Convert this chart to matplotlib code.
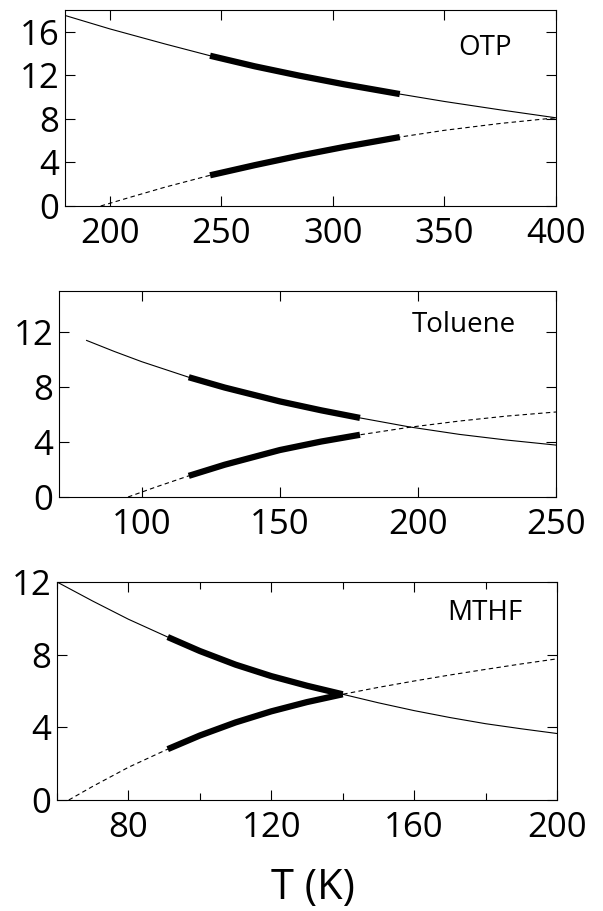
import matplotlib
matplotlib.use('Agg')
import matplotlib.pyplot as plt
import numpy as np
from matplotlib.ticker import MultipleLocator

plt.rcParams['font.family'] = ['Open Sans', 'DejaVu Sans']

# OTP
otp_T_solid = [180, 200, 225, 245, 265, 285, 305, 330, 350, 375, 400]
otp_solid = [17.5, 16.27, 14.87, 13.8, 12.83, 11.97, 11.18, 10.28, 9.6, 8.83, 8.1]
otp_T_dash = [196, 210, 225, 245, 265, 285, 305, 330, 350, 375, 400]
otp_dash = [0, 0.85, 1.74, 2.82, 3.75, 4.62, 5.42, 6.33, 6.95, 7.58, 8.1]
otp_range = (245, 330)

# Toluene
tol_T_solid = [80, 90, 100, 117, 130, 150, 165, 179, 197, 215, 232, 250]
tol_solid = [11.4, 10.6, 9.85, 8.72, 7.97, 6.96, 6.31, 5.76, 5.1, 4.56, 4.15, 3.78]
tol_T_dash = [95, 105, 117, 130, 150, 165, 179, 197, 215, 232, 250]
tol_dash = [0, 0.72, 1.54, 2.35, 3.42, 4.04, 4.53, 5.08, 5.53, 5.89, 6.19]
tol_range = (117, 179)

# MTHF
mthf_T_solid = [60, 70, 80, 91, 100, 110, 120, 130, 140, 150, 160, 170, 180, 190, 200]
mthf_solid = [12.0, 10.95, 9.95, 8.97, 8.2, 7.45, 6.82, 6.29, 5.82, 5.35, 4.92, 4.54, 4.2, 3.92, 3.66]
mthf_T_dash = [63.3, 70, 80, 91, 100, 110, 120, 130, 140, 150, 160, 170, 180, 190, 200]
mthf_dash = [0, 0.75, 1.8, 2.8, 3.55, 4.27, 4.88, 5.39, 5.82, 6.2, 6.55, 6.88, 7.19, 7.49, 7.77]
mthf_range = (91, 140)

panels = [
    dict(name='OTP', Ts=otp_T_solid, ys=otp_solid, Td=otp_T_dash, yd=otp_dash, rng=otp_range,
         xlim=(180, 400), ylim=(0, 18), xmaj=50, xmin=None, yticks=[0, 4, 8, 12, 16],
         rect=[65, 10, 556, 206], lab=(0.855, 0.806)),
    dict(name='Toluene', Ts=tol_T_solid, ys=tol_solid, Td=tol_T_dash, yd=tol_dash, rng=tol_range,
         xlim=(70, 250), ylim=(0, 15), xmaj=50, xmin=None, yticks=[0, 4, 8, 12],
         rect=[59, 291, 556, 497], lab=(0.814, 0.836)),
    dict(name='MTHF', Ts=mthf_T_solid, ys=mthf_solid, Td=mthf_T_dash, yd=mthf_dash, rng=mthf_range,
         xlim=(60, 200), ylim=(0, 12), xmaj=40, xmin=20, yticks=[0, 4, 8, 12],
         rect=[57, 582, 557, 800], lab=(0.855, 0.86)),
]

W, H = 603, 911
fig = plt.figure(figsize=(W / 100, H / 100), dpi=100)

for p in panels:
    l, t, r, b = p['rect']
    ax = fig.add_axes([l / W, 1 - b / H, (r - l) / W, (b - t) / H])
    Ts = np.array(p['Ts'])
    ys = np.array(p['ys'])
    Td = np.array(p['Td'])
    yd = np.array(p['yd'])
    ax.plot(Ts, ys, color='black', lw=0.8)
    ax.plot(Td, yd, color='black', lw=0.8, linestyle=(0, (4, 3)))
    lo, hi = p['rng']
    ms = (Ts >= lo) & (Ts <= hi)
    md = (Td >= lo) & (Td <= hi)
    ax.plot(Ts[ms], ys[ms], color='black', lw=4.5, solid_capstyle='butt', solid_joinstyle='round')
    ax.plot(Td[md], yd[md], color='black', lw=4.5, solid_capstyle='butt', solid_joinstyle='round')

    ax.set_xlim(p['xlim'])
    ax.set_ylim(p['ylim'])
    ax.xaxis.set_major_locator(MultipleLocator(p['xmaj']))
    if p['xmin']:
        ax.xaxis.set_minor_locator(MultipleLocator(p['xmin']))
    ax.set_yticks(p['yticks'])
    ax.tick_params(which='both', direction='in', top=True, right=True, width=0.8, labelsize=25)
    ax.tick_params(which='major', length=7)
    ax.tick_params(which='minor', length=5)
    ax.tick_params(axis='x', pad=8)
    ax.tick_params(axis='y', pad=4)
    for s in ax.spines.values():
        s.set_linewidth(0.8)
    ax.text(p['lab'][0], p['lab'][1], p['name'], transform=ax.transAxes,
            ha='center', va='center', fontsize=20)

fig.text(313 / W, 1 - 888 / H, 'T (K)', ha='center', va='center', fontsize=30)

plt.savefig('out.png', dpi=100)
